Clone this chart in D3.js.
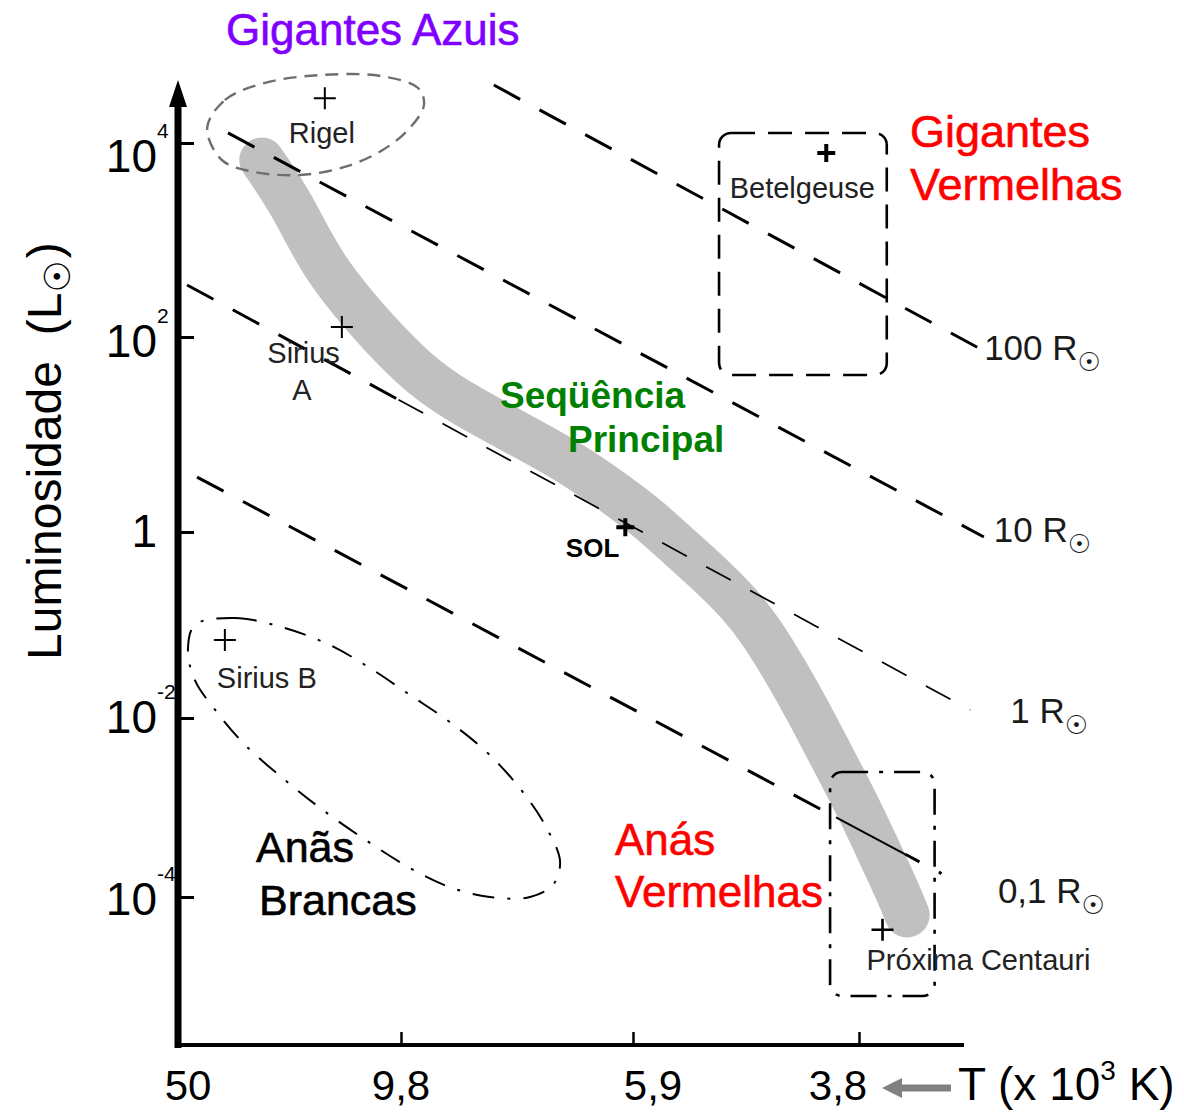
<!DOCTYPE html>
<html>
<head>
<meta charset="utf-8">
<script src="https://cdn.jsdelivr.net/npm/d3@7"></script>
<style>
  html, body { margin: 0; padding: 0; background: #fff; }
  svg text { font-family: "Liberation Sans", Arial, Helvetica, sans-serif; }
</style>
</head>
<body>
<svg id="chart" width="1184" height="1112"></svg>
<script>
// ---- Axis ticks -------------------------------------------------------
// Temperature (10^3 K), hotter to the left
const tempTicks = [50, 9.8, 5.9, 3.8];
const tempTickLabels = ["50", "9,8", "5,9", "3,8"];
// Luminosity in solar units
const lumTicks = [1e4, 1e2, 1, 1e-2, 1e-4];
const lumTickBase = ["10", "10", "1", "10", "10"];
const lumTickExp = ["4", "2", "", "-2", "-4"];

// ---- Main sequence ridge (T in 10^3 K, L in L_sun) --------------------
const mainSeqT = [27.1, 21.6, 17.45, 11.6, 9.30, 8.43, 7.55, 6.77, 6.07, 5.71, 5.38, 5.06, 4.79, 4.58, 4.39, 4.20, 4.01, 3.82, 3.66, 3.52, 3.46];
const mainSeqL = [6680, 2300, 527, 110, 36.2, 18.7, 9.89, 5.22, 2.29, 1.33, 0.673, 0.336, 0.168, 0.0800, 0.0328, 0.0122, 0.00376, 0.00112, 3.35e-4, 1.11e-4, 6.3e-5];

// ---- Named stars ------------------------------------------------------
const starNames = ["Rigel", "Betelgeuse", "Sirius A", "Sirius B", "SOL", "Próxima Centauri"];
const starT = [17.1, 4.05, 15.1, 35.5, 6.0, 3.63];
const starL = [29000, 7900, 127, 0.069, 1.12, 4.3e-5];

// ---- Lines of constant radius (R / R_sun) ------------------------------
const radiusLabels = ["100", "10", "1", "0,1"];
const radiusT0 = [8.0, 34.7, 46.8, 43.5];
const radiusL0 = [39600, 12700, 344, 3.66];
const radiusT1 = [2.99, 2.98, 3.06, 3.08];
const radiusL1 = [73.6, 0.884, 0.0122, 1.29e-4];

// ---- Outlined regions -------------------------------------------------
const blueGiantT = [40.4, 35.5, 26.5, 17.6, 11.4, 9.44, 9.32, 9.61, 11.2, 14.8, 20.5, 28.5, 36.3];
const blueGiantL = [14300, 27700, 41600, 50200, 49100, 36900, 24700, 14300, 8470, 5660, 4680, 5020, 6680];

const whiteDwarfT = [44.2, 33.0, 22.9, 16.5, 12.3, 9.61, 8.81, 8.07, 7.47, 7.11, 6.92, 7.03, 7.39, 8.07, 8.81, 9.61, 12.7, 17.7, 22.9, 30.6, 38.1, 44.2, 46.5];
const whiteDwarfL = [0.100, 0.119, 0.0929, 0.0610, 0.0345, 0.0177, 0.00902, 0.00386, 0.00138, 5.61e-4, 2.46e-4, 1.36e-4, 1.0e-4, 1.0e-4, 1.29e-4, 2.11e-4, 4.34e-4, 9.87e-4, 0.00203, 0.00499, 0.0122, 0.0256, 0.0538];

const redGiantBoxT = [4.99, 3.60];
const redGiantBoxL = [12700, 40.7];
const redDwarfBoxT = [4.02, 3.28];
const redDwarfBoxL = [0.00249, 7.83e-6];

// ---- Scales -----------------------------------------------------------
const svg = d3.select("#chart");
const x = d3.scaleLog().domain(tempTicks).range([178, 401, 633, 859]);
const y = d3.scaleLog().domain(lumTicks).range([143, 337, 532, 718, 897]);
const axisX0 = 178, axisY0 = 1045;

const pt = (T, L) => [x(T), y(L)];

// ---- Main sequence band (smoothed ridge) ------------------------------
const band = d3.line().curve(d3.curveBasis);
svg.append("path")
  .attr("d", band(mainSeqT.map((t, i) => pt(t, mainSeqL[i]))))
  .attr("fill", "none")
  .attr("stroke", "#c0c0c0")
  .attr("stroke-width", 45)
  .attr("stroke-linecap", "round")
  .attr("stroke-linejoin", "round");

// ---- Constant-radius lines -------------------------------------------
const lerp = (a, b, t) => [a[0] + (b[0] - a[0]) * t, a[1] + (b[1] - a[1]) * t];
const segLine = d3.line();
const radiusG = svg.append("g").attr("fill", "none").attr("stroke", "#000");
const radiusLabelOffset = [[2, 10], [10, 5], [40, 13], [31, 16]];

radiusLabels.forEach((lab, i) => {
  const p0 = pt(radiusT0[i], radiusL0[i]);
  const p1 = pt(radiusT1[i], radiusL1[i]);
  if (i === 2) {
    // this line runs along the main sequence: heavy near the axis, fine afterwards
    const m = lerp(p0, p1, 0.27);
    radiusG.append("path").attr("d", segLine([p0, m]))
      .attr("stroke-width", 3).attr("stroke-dasharray", "30 22");
    radiusG.append("path").attr("d", segLine([m, p1]))
      .attr("stroke-width", 1.7).attr("stroke-dasharray", "28 22");
  } else if (i === 3) {
    const a = lerp(p0, p1, 0.83), b = lerp(p0, p1, 0.92);
    radiusG.append("path").attr("d", segLine([p0, a]))
      .attr("stroke-width", 3).attr("stroke-dasharray", "30 22");
    radiusG.append("path").attr("d", segLine([a, b]))
      .attr("stroke-width", 2);
    radiusG.append("path").attr("d", segLine([b, p1]))
      .attr("stroke-width", 3).attr("stroke-dasharray", "16 22 3 30");
  } else {
    radiusG.append("path").attr("d", segLine([p0, p1]))
      .attr("stroke-width", 3).attr("stroke-dasharray", "30 22");
  }
  const [dx, dy] = radiusLabelOffset[i];
  const t = svg.append("text")
    .attr("x", p1[0] + dx).attr("y", p1[1] + dy)
    .attr("fill", "#1a1a1a")
    .style("font-size", "35px");
  t.append("tspan").text(lab + " R");
  t.append("tspan").attr("dy", 11).style("font-size", "26px")
    .style("font-family", "'DejaVu Sans', sans-serif").text("☉");
});

// ---- Outlined regions -------------------------------------------------
const closed = d3.line().curve(d3.curveCatmullRomClosed.alpha(0.5));
svg.append("path")
  .attr("d", closed(blueGiantT.map((t, i) => pt(t, blueGiantL[i]))))
  .attr("fill", "none").attr("stroke", "#6e6e6e")
  .attr("stroke-width", 2.4).attr("stroke-dasharray", "13 8");

svg.append("path")
  .attr("d", closed(whiteDwarfT.map((t, i) => pt(t, whiteDwarfL[i]))))
  .attr("fill", "none").attr("stroke", "#000")
  .attr("stroke-width", 2).attr("stroke-dasharray", "22 13 3 13");

function roundedBox(Ts, Ls, dash) {
  const [xa, ya] = pt(Ts[0], Ls[0]);
  const [xb, yb] = pt(Ts[1], Ls[1]);
  svg.append("rect")
    .attr("x", Math.min(xa, xb)).attr("y", Math.min(ya, yb))
    .attr("width", Math.abs(xb - xa)).attr("height", Math.abs(yb - ya))
    .attr("rx", 12).attr("ry", 12)
    .attr("fill", "none").attr("stroke", "#000")
    .attr("stroke-width", 2.6).attr("stroke-dasharray", dash);
}
roundedBox(redGiantBoxT, redGiantBoxL, "24 13");
roundedBox(redDwarfBoxT, redDwarfBoxL, "26 11 4 11");

// ---- Axes ---------------------------------------------------------------
svg.append("g")
  .attr("transform", `translate(${axisX0},0)`)
  .call(d3.axisLeft(y).tickValues(lumTicks).tickSizeInner(-16).tickSizeOuter(0).tickFormat(""))
  .call(g => g.select(".domain").remove())
  .call(g => g.selectAll(".tick line").attr("stroke", "#000").attr("stroke-width", 3));

svg.append("g")
  .attr("transform", `translate(0,${axisY0})`)
  .call(d3.axisBottom(x).tickValues(tempTicks.slice(1)).tickSizeInner(-13).tickSizeOuter(0).tickFormat(""))
  .call(g => g.select(".domain").remove())
  .call(g => g.selectAll(".tick line").attr("stroke", "#000").attr("stroke-width", 2.5));

// axis lines
svg.append("line").attr("x1", axisX0).attr("x2", axisX0).attr("y1", axisY0 + 3).attr("y2", 100)
  .attr("stroke", "#000").attr("stroke-width", 7);
svg.append("path").attr("d", `M${axisX0},80 L${axisX0 - 9},107 L${axisX0 + 9},107 Z`).attr("fill", "#000");
svg.append("line").attr("x1", axisX0 - 3).attr("x2", 964).attr("y1", axisY0).attr("y2", axisY0)
  .attr("stroke", "#000").attr("stroke-width", 4);

// luminosity tick labels
const lumLabelDy = [29, 20, 15, 15, 18];
lumTicks.forEach((v, i) => {
  const base = y(v) + lumLabelDy[i];
  svg.append("text").attr("x", 157).attr("y", base)
    .attr("text-anchor", "end").style("font-size", "46px").text(lumTickBase[i]);
  if (lumTickExp[i]) {
    svg.append("text").attr("x", 157).attr("y", base - 34)
      .style("font-size", "21px").text(lumTickExp[i]);
  }
});

// temperature tick labels
const tempLabelDx = [10, 0, 20, -21];
tempTicks.forEach((v, i) => {
  svg.append("text").attr("x", x(v) + tempLabelDx[i]).attr("y", 1100)
    .attr("text-anchor", "middle").style("font-size", "42px").text(tempTickLabels[i]);
});

// axis titles
const tTitle = svg.append("text").attr("x", 958).attr("y", 1100).style("font-size", "46px");
tTitle.append("tspan").text("T (x 10");
tTitle.append("tspan").attr("dy", -20).style("font-size", "28px").text("3");
tTitle.append("tspan").attr("dy", 20).text(" K)");
svg.append("path")
  .attr("d", "M882,1088 L902,1078 L902,1084.5 L951,1084.5 L951,1091.5 L902,1091.5 L902,1098 Z")
  .attr("fill", "#808080");

const lTitle = svg.append("text").attr("transform", "translate(61,660) rotate(-90)")
  .style("font-size", "48px");
lTitle.append("tspan").text("Luminosidade");
lTitle.append("tspan").attr("dx", 26).text("(L");
lTitle.append("tspan").attr("dy", 9).style("font-size", "36px")
  .style("font-family", "'DejaVu Sans', sans-serif").text("☉");
lTitle.append("tspan").attr("dy", -9).attr("dx", 2).text(")");

// ---- Stars ------------------------------------------------------------
const heavyStars = new Set(["Betelgeuse", "SOL"]);
const starLabelPos = {
  "Rigel": [[-3, 45, "middle", "Rigel"]],
  "Betelgeuse": [[-24, 45, "middle", "Betelgeuse"]],
  "Sirius A": [[-2, 36, "end", "Sirius"], [-40, 73, "middle", "A"]],
  "Sirius B": [[-8, 48, "start", "Sirius B"]],
  "SOL": [[-6, 30, "end", "SOL"]],
  "Próxima Centauri": [[-16, 40, "start", "Próxima Centauri"]]
};
starNames.forEach((name, i) => {
  const [cx, cy] = pt(starT[i], starL[i]);
  const heavy = heavyStars.has(name);
  const h = heavy ? 9 : 11;
  svg.append("path")
    .attr("d", `M${cx - h},${cy} H${cx + h} M${cx},${cy - h} V${cy + h}`)
    .attr("stroke", "#000")
    .attr("stroke-width", heavy ? 4 : (name === "Próxima Centauri" ? 2.6 : 2));
  starLabelPos[name].forEach(([dx, dy, anchor, txt]) => {
    const bold = name === "SOL";
    svg.append("text").attr("x", cx + dx).attr("y", cy + dy)
      .attr("text-anchor", anchor)
      .attr("fill", bold ? "#000" : "#222")
      .style("font-size", bold ? "26px" : "29px")
      .style("font-weight", bold ? "bold" : "normal")
      .text(txt);
  });
});

// ---- Region names -------------------------------------------------------
function regionLabel(lines, x0, baselines, color, size, weight) {
  lines.forEach((txt, k) => {
    svg.append("text").attr("x", x0[k]).attr("y", baselines[k])
      .attr("fill", color).attr("stroke", color).attr("stroke-width", weight === "bold" ? 0 : 0.6)
      .style("font-size", size + "px").style("font-weight", weight)
      .text(txt);
  });
}
regionLabel(["Gigantes Azuis"], [226], [45], "#8000ff", 44, "normal");
regionLabel(["Gigantes", "Vermelhas"], [910, 910], [147, 200], "#ff0000", 45, "normal");
regionLabel(["Seqüência", "Principal"], [500, 568], [408, 452], "#008000", 37, "bold");
regionLabel(["Anãs", "Brancas"], [256, 259], [862, 915], "#000", 43, "normal");
regionLabel(["Anás", "Vermelhas"], [615, 615], [855, 907], "#ff0000", 44, "normal");
</script>
</body>
</html>
